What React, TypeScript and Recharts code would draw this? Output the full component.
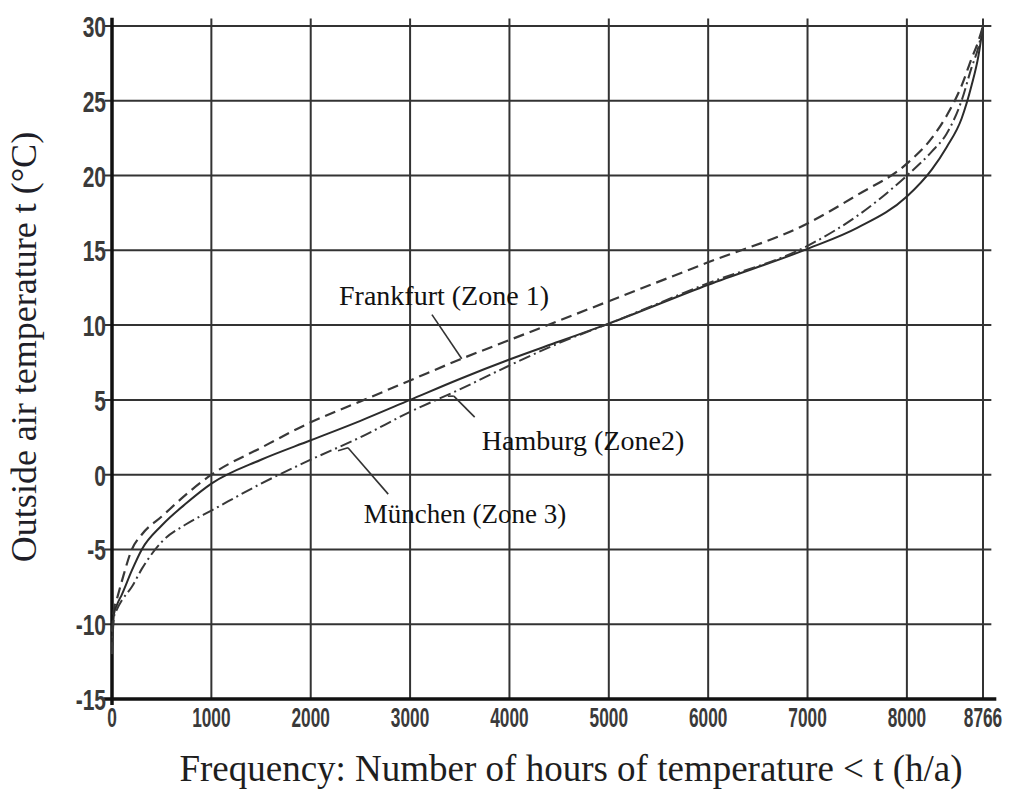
import React from 'react';
import { LineChart, Line, XAxis, YAxis, ReferenceLine } from 'recharts';

// hours per year below temperature t, shared by all three stations
const hours = [0, 20, 50, 100, 200, 300, 500, 750, 1000, 1500, 2000, 2500, 3000, 3500, 4000, 4500, 5000, 6000, 7000, 7500, 8000, 8250, 8400, 8550, 8650, 8720, 8766];

// outside air temperature (°C)
const frankfurt = [-10.5, -9.0, -8.3, -7.1, -5.0, -4.0, -2.8, -1.3, 0.0, 1.8, 3.5, 4.9, 6.3, 7.7, 9.0, 10.3, 11.6, 14.2, 16.8, 18.7, 20.8, 22.5, 24.0, 26.0, 27.8, 29.0, 30];
const hamburg = [-11.5, -9.3, -8.7, -8.0, -6.4, -5.0, -3.4, -1.9, -0.6, 1.0, 2.3, 3.6, 5.0, 6.4, 7.7, 8.9, 10.1, 12.7, 15.1, 16.5, 18.6, 20.4, 21.9, 23.8, 26.0, 28.0, 30];
const muenchen = [-12.0, -9.5, -9.0, -8.4, -7.5, -6.3, -4.5, -3.3, -2.4, -0.6, 1.0, 2.5, 4.2, 5.7, 7.3, 8.8, 10.1, 12.8, 15.3, 17.3, 20.0, 21.6, 22.8, 25.0, 27.2, 28.6, 30];

const hourTicks = [0, 1000, 2000, 3000, 4000, 5000, 6000, 7000, 8000, 8766];
const tempTicks = [-15, -10, -5, 0, 5, 10, 15, 20, 25, 30];

const data = hours.map((h, i) => ({
  h,
  frankfurt: frankfurt[i],
  hamburg: hamburg[i],
  muenchen: muenchen[i],
}));

// leader lines from the station labels to their curves (data units)
const leaders = [
  [{ x: 3220, y: 10.7 }, { x: 3520, y: 7.75 }],
  [{ x: 3380, y: 5.25 }, { x: 3440, y: 5.25 }],
  [{ x: 3440, y: 5.25 }, { x: 3650, y: 3.85 }],
  [{ x: 2275, y: 1.6 }, { x: 2375, y: 1.8 }],
  [{ x: 2375, y: 1.8 }, { x: 2780, y: -1.3 }],
];

const W = 1016;
const H = 794;
const ink = '#2b2b2b';
const tickFont = "'Liberation Sans', Arial, sans-serif";
const serif = "'Liberation Serif', 'Times New Roman', serif";

// narrow stencil-like digits: regular sans squeezed horizontally
const HourTick = (props: any) => {
  const { x, y, payload } = props;
  return (
    <text
      transform={`translate(${x},${y + 28}) scale(0.64,1)`}
      textAnchor="middle"
      fontFamily={tickFont}
      fontWeight="bold"
      fontSize={27}
      fill="#3a3a3a"
    >
      {payload.value}
    </text>
  );
};

const TempTick = (props: any) => {
  const { x, y, payload } = props;
  return (
    <text
      transform={`translate(${x - 6},${y + 11}) scale(0.7,1)`}
      textAnchor="end"
      fontFamily={tickFont}
      fontWeight="bold"
      fontSize={30}
      fill="#3a3a3a"
    >
      {payload.value}
    </text>
  );
};

export default function App() {
  return (
    <div style={{ position: 'absolute', left: 0, top: 0, width: W, height: H, background: '#fff' }}>
      <LineChart width={W} height={H} data={data} margin={{ top: 26, right: 33, left: 62, bottom: 65 }}>
        <XAxis
          type="number"
          dataKey="h"
          domain={[0, 8766]}
          ticks={hourTicks}
          interval={0}
          axisLine={false}
          tickLine={false}
          tickSize={0}
          tickMargin={0}
          height={30}
          tick={HourTick}
        />
        <YAxis
          type="number"
          domain={[-15, 30]}
          ticks={tempTicks}
          interval={0}
          axisLine={false}
          tickLine={false}
          tickSize={0}
          tickMargin={0}
          width={50}
          tick={TempTick}
        />

        {/* grid, drawn a little past the frame like the hand-ruled original */}
        {tempTicks.map((t) => (
          <ReferenceLine
            key={'h' + t}
            segment={[{ x: -75, y: t }, { x: 8850, y: t }]}
            ifOverflow="visible"
            stroke="#333"
            strokeWidth={2}
          />
        ))}
        {hourTicks.slice(1).map((h) => (
          <ReferenceLine
            key={'v' + h}
            segment={[{ x: h, y: -15 }, { x: h, y: 30.5 }]}
            ifOverflow="visible"
            stroke="#333"
            strokeWidth={2}
          />
        ))}
        <ReferenceLine segment={[{ x: 0, y: -15.4 }, { x: 0, y: 30.55 }]} ifOverflow="visible" stroke="#111" strokeWidth={3.5} />
        <ReferenceLine segment={[{ x: -80, y: -15 }, { x: 8900, y: -15 }]} ifOverflow="visible" stroke="#111" strokeWidth={3.5} />

        {leaders.map((seg, i) => (
          <ReferenceLine key={'l' + i} segment={seg} ifOverflow="visible" stroke="#333" strokeWidth={1.6} />
        ))}

        <Line type="monotone" dataKey="frankfurt" stroke="#383838" strokeWidth={2.2} strokeDasharray="11 6" dot={false} isAnimationActive={false} />
        <Line type="monotone" dataKey="hamburg" stroke={ink} strokeWidth={2} dot={false} isAnimationActive={false} />
        <Line type="monotone" dataKey="muenchen" stroke="#383838" strokeWidth={2} strokeDasharray="12 4 2 4" dot={false} isAnimationActive={false} />
      </LineChart>

      <svg width={W} height={H} style={{ position: 'absolute', left: 0, top: 0, pointerEvents: 'none' }}>
        <text x={24} y={347} transform="rotate(-90 24 347)" textAnchor="middle" dominantBaseline="central" fontFamily={serif} fontSize={36} fill="#1e1e28">
          Outside air temperature t (°C)
        </text>
        <text x={571} y={781} textAnchor="middle" fontFamily={serif} fontSize={37} fill="#1e1e1e">
          Frequency: Number of hours of temperature &lt; t (h/a)
        </text>
        <text x={444} y={305} textAnchor="middle" fontFamily={serif} fontSize={28} fill="#111">
          Frankfurt (Zone 1)
        </text>
        <text x={583} y={450} textAnchor="middle" fontFamily={serif} fontSize={28} fill="#111">
          Hamburg (Zone2)
        </text>
        <text x={465} y={523} textAnchor="middle" fontFamily={serif} fontSize={27} fill="#111">
          München (Zone 3)
        </text>
      </svg>
    </div>
  );
}
